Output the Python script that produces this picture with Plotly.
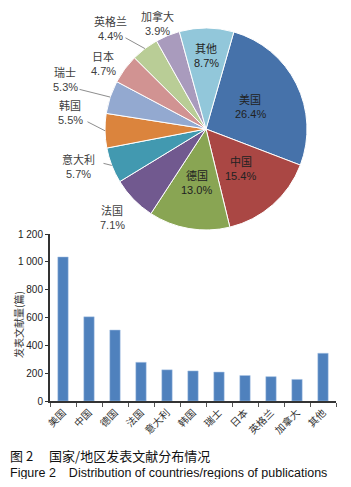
import math
import plotly.graph_objects as go

countries = ["美国", "中国", "德国", "法国", "意大利", "韩国", "瑞士", "日本", "英格兰", "加拿大", "其他"]
pie_pct = [26.4, 15.4, 13.0, 7.1, 5.7, 5.5, 5.3, 4.7, 4.4, 3.9, 8.7]
bar_counts = [1035, 605, 510, 278, 224, 216, 208, 183, 175, 155, 343]
pie_colors = ["#4672AA", "#AA4744", "#89A553", "#71598F", "#4299B0", "#DB843D",
              "#93A9D0", "#D19392", "#B9CD96", "#A99BBD", "#92C7DA"]
# inside labels: radial fraction of the radius at which the label sits
inside_place = {"美国": 0.49, "中国": 0.52, "德国": 0.54, "其他": 0.73}
# outside labels: text block centre (reference px) and leader-line start (or None)
outside_place = {
    "加拿大": (157, 24, None),
    "英格兰": (110, 29, (124, 37)),
    "日本": (103, 64, None),
    "瑞士": (65, 80, (78, 89)),
    "韩国": (70, 112, (86, 121)),
    "意大利": (78, 166, (102, 163)),
    "法国": (112, 217, None),
}
y_ticks = [0, 200, 400, 600, 800, 1000, 1200]

# page body has an 8px margin; the figure is sized to fit inside the window
OFF = 8
W, H = 351 - 2 * OFF, 487 - 2 * OFF
cjk = "Noto Sans CJK SC"
latin = "Liberation Sans, Arial"


def px(x):
    return (x - OFF) / W


def py(y):
    return 1 - (y - OFF) / H


PCX, PCY, PR = 206, 129, 101
ROT = 16
LINE = 7.5  # half line spacing of two-line labels

fig = go.Figure()

fig.add_trace(go.Pie(
    labels=countries,
    values=pie_pct,
    sort=False,
    direction="clockwise",
    rotation=ROT,
    marker=dict(colors=pie_colors, line=dict(color="white", width=1)),
    textinfo="none",
    domain=dict(x=[px(PCX - PR), px(PCX + PR)], y=[py(PCY + PR), py(PCY - PR)]),
    showlegend=False,
    hoverinfo="skip",
))

fig.add_trace(go.Bar(
    x=countries,
    y=bar_counts,
    marker=dict(color="#4F81BD", line=dict(color="#A9C4E6", width=0.5)),
    width=0.4,
    xaxis="x", yaxis="y",
    showlegend=False,
))


def text_ann(text, x, y, color, family, size=11):
    return dict(text=text, x=px(x), y=py(y), xref="paper", yref="paper",
                showarrow=False, xanchor="center", yanchor="middle",
                font=dict(family=family, size=size, color=color))


annotations = []
total = sum(pie_pct)
cum = 0.0
for name, v in zip(countries, pie_pct):
    mid = cum + v / 2
    cum += v
    ang = math.radians(ROT + 360 * mid / total)
    pct = f"{v:.1f}%"
    if name in inside_place:
        f = inside_place[name]
        cx = PCX + PR * f * math.sin(ang)
        cy = PCY - PR * f * math.cos(ang)
        annotations.append(text_ann(name, cx, cy - LINE, "#222222", cjk))
        annotations.append(text_ann(pct, cx, cy + LINE, "#222222", latin))
        continue
    tx, ty, lead = outside_place[name]
    annotations.append(text_ann(name, tx, ty - LINE, "#404040", cjk))
    annotations.append(text_ann(pct, tx, ty + LINE, "#404040", latin))
    if lead is not None:
        ex = PCX + PR * math.sin(ang)
        ey = PCY - PR * math.cos(ang)
        annotations.append(dict(
            text="", x=px(ex), y=py(ey), xref="paper", yref="paper",
            ax=lead[0] - ex, ay=lead[1] - ey, showarrow=True, arrowhead=0,
            arrowwidth=0.8, arrowcolor="#707070", standoff=0, startstandoff=0))

annotations += [
    dict(text="发表文献量(篇)", x=px(18), y=py(325), xref="paper", yref="paper",
         textangle=-90, showarrow=False, xanchor="center", yanchor="middle",
         font=dict(family=cjk, size=10, color="#333333")),
    dict(text="图 2　 国家/地区发表文献分布情况", x=px(8), y=py(455),
         xref="paper", yref="paper", xanchor="left", yanchor="middle",
         showarrow=False, font=dict(family=cjk, size=13, color="#111111")),
    dict(text="Figure 2　Distribution of countries/regions of publications", x=px(8), y=py(473),
         xref="paper", yref="paper", xanchor="left", yanchor="middle",
         showarrow=False, font=dict(family=latin, size=12.5, color="#111111")),
]

fig.update_layout(
    width=W, height=H,
    margin=dict(l=0, r=0, t=0, b=0, pad=0, autoexpand=False),
    paper_bgcolor="white",
    plot_bgcolor="white",
    separators=". ",
    font=dict(family=latin, color="#222222"),
    xaxis=dict(
        domain=[px(50), px(336)],
        anchor="y",
        automargin=False,
        tickangle=-45,
        ticks="outside", tickson="boundaries", ticklen=4, tickcolor="#555555",
        showline=True, linecolor="#333333", linewidth=2,
        tickfont=dict(family=cjk, size=10, color="#333333"),
        showgrid=False,
    ),
    yaxis=dict(
        domain=[py(401), py(234)],
        anchor="x",
        automargin=False,
        range=[0, 1200],
        tickvals=y_ticks,
        tickformat=",",
        ticks="outside", ticklen=3, tickcolor="#333333",
        showline=True, linecolor="#333333", linewidth=2,
        tickfont=dict(family=latin, size=10, color="#222222"),
        showgrid=False, zeroline=False,
    ),
    annotations=annotations,
)

fig.write_html("out.html")
